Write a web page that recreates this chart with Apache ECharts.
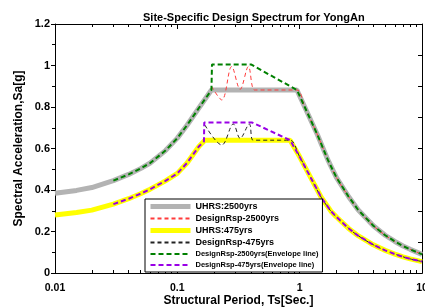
<!DOCTYPE html>
<html>
<head>
<meta charset="utf-8">
<script src="https://cdn.jsdelivr.net/npm/echarts@6/dist/echarts.min.js"></script>
<style>
  html, body { margin: 0; padding: 0; background: #fff; }
  #chart { width: 425px; height: 307px; }
</style>
</head>
<body>
<div id="chart"></div>
<script>
// UHRS curves (period in sec, Sa in g)
const uhrs2500Period = [0.01, 0.015, 0.02, 0.03, 0.04, 0.05, 0.06, 0.08, 0.1, 0.12, 0.15, 0.19, 0.3, 0.5, 0.7, 0.95, 1.1, 1.4, 1.7, 2, 2.5, 3, 4, 5, 6, 7, 8, 10];
const uhrs2500Sa = [0.384, 0.398, 0.412, 0.445, 0.475, 0.503, 0.53, 0.59, 0.65, 0.712, 0.795, 0.882, 0.882, 0.882, 0.882, 0.882, 0.8, 0.665, 0.545, 0.46, 0.37, 0.305, 0.228, 0.182, 0.152, 0.13, 0.114, 0.09];

const uhrs475Period = [0.01, 0.015, 0.02, 0.03, 0.04, 0.05, 0.06, 0.08, 0.1, 0.12, 0.15, 0.168, 0.3, 0.5, 0.7, 0.835, 1, 1.2, 1.5, 1.8, 2, 2.5, 3, 4, 5, 6, 7, 8, 10];
const uhrs475Sa = [0.28, 0.292, 0.303, 0.332, 0.358, 0.382, 0.404, 0.444, 0.48, 0.53, 0.61, 0.64, 0.64, 0.64, 0.64, 0.64, 0.56, 0.472, 0.365, 0.298, 0.27, 0.216, 0.18, 0.136, 0.109, 0.091, 0.078, 0.068, 0.055];

// design spectra
const design2500Period = [0.19, 0.231, 0.278, 0.326, 0.381, 0.427, 0.5, 0.7, 0.95, 1.1, 1.4, 1.7, 2, 2.5, 3, 4, 5, 6, 7, 8, 10];
const design2500Sa = [0.9, 0.834, 0.995, 0.885, 0.995, 0.882, 0.882, 0.882, 0.882, 0.8, 0.665, 0.545, 0.46, 0.37, 0.305, 0.228, 0.182, 0.152, 0.13, 0.114, 0.09];

const design475Period = [0.168, 0.231, 0.287, 0.326, 0.388, 0.416, 0.5, 0.7, 0.835, 1, 1.2, 1.5, 1.8, 2, 2.5, 3, 4, 5, 6, 7, 8, 10];
const design475Sa = [0.713, 0.617, 0.718, 0.649, 0.718, 0.64, 0.64, 0.64, 0.64, 0.56, 0.472, 0.365, 0.298, 0.27, 0.216, 0.18, 0.136, 0.109, 0.091, 0.078, 0.068, 0.055];

// envelope lines
const env2500Period = [0.03, 0.04, 0.05, 0.06, 0.08, 0.1, 0.12, 0.15, 0.19, 0.192, 0.4, 0.95, 1.1, 1.4, 1.7, 2, 2.5, 3, 4, 5, 6, 7, 8, 10];
const env2500Sa = [0.445, 0.475, 0.503, 0.53, 0.59, 0.65, 0.712, 0.795, 0.882, 1.005, 1.005, 0.882, 0.8, 0.665, 0.545, 0.46, 0.37, 0.305, 0.228, 0.182, 0.152, 0.13, 0.114, 0.09];

const env475Period = [0.03, 0.04, 0.05, 0.06, 0.08, 0.1, 0.12, 0.15, 0.165, 0.166, 0.41, 0.835, 1, 1.2, 1.5, 1.8, 2, 2.5, 3, 4, 5, 6, 7, 8, 10];
const env475Sa = [0.332, 0.358, 0.382, 0.404, 0.444, 0.48, 0.53, 0.61, 0.634, 0.725, 0.725, 0.64, 0.56, 0.472, 0.365, 0.298, 0.27, 0.216, 0.18, 0.136, 0.109, 0.091, 0.078, 0.068, 0.055];

const xMajorTicks = [0.01, 0.1, 1, 10];
const xMinorTicks = [0.02, 0.03, 0.04, 0.05, 0.06, 0.07, 0.08, 0.09, 0.2, 0.3, 0.4, 0.5, 0.6, 0.7, 0.8, 0.9, 2, 3, 4, 5, 6, 7, 8, 9];

const font = "'Liberation Sans', Arial, sans-serif";

function pairs(xs, ys) {
  return xs.map((x, i) => [x, ys[i]]);
}

function logAxis(position, ticks, len, extra) {
  return Object.assign({
    type: "log",
    logBase: 10,
    min: 0.01,
    max: 10,
    position,
    axisLine: { show: true, onZero: false, lineStyle: { color: "#000", width: 1 } },
    axisTick: { show: true, inside: true, length: len, customValues: ticks, lineStyle: { color: "#000" } },
    axisLabel: { show: false },
    splitLine: { show: false },
    minorTick: { show: false },
  }, extra || {});
}

const chart = echarts.init(document.getElementById("chart"));

chart.setOption({
  animation: false,
  title: {
    text: "Site-Specific Design Spectrum for YongAn",
    left: 138,
    top: 7,
    textStyle: { fontFamily: font, fontSize: 11, fontWeight: "bold", color: "#000" },
  },
  grid: { left: 55, right: 3, top: 24, bottom: 34, outerBoundsMode: "none", containLabel: false },
  legend: {
    orient: "vertical",
    left: 145,
    top: 199,
    padding: [3, 4, 3, 3],
    itemWidth: 40,
    itemHeight: 9,
    itemGap: 3,
    itemStyle: { opacity: 0 },
    borderColor: "#000",
    borderWidth: 1,
    backgroundColor: "#fff",
    textStyle: { fontFamily: font, fontWeight: "bold", color: "#000", fontSize: 9 },
    data: [
      { name: "UHRS:2500yrs", lineStyle: { width: 5 } },
      { name: "DesignRsp-2500yrs" },
      { name: "UHRS:475yrs", lineStyle: { width: 5 } },
      { name: "DesignRsp-475yrs" },
      { name: "DesignRsp-2500yrs(Envelope line)", lineStyle: { width: 2 }, textStyle: { fontSize: 7.5 } },
      { name: "DesignRsp-475yrs(Envelope line)", lineStyle: { width: 2 }, textStyle: { fontSize: 7.5 } },
    ],
  },
  xAxis: [
    logAxis("bottom", xMajorTicks, 5, {
      name: "Structural Period, Ts[Sec.]",
      nameLocation: "middle",
      nameGap: 22,
      nameMoveOverlap: false,
      nameTextStyle: { fontFamily: font, fontSize: 12, fontWeight: "bold", color: "#000" },
      axisLabel: {
        show: true,
        customValues: xMajorTicks,
        margin: 10,
        fontFamily: font,
        fontSize: 10.5,
        fontWeight: "bold",
        color: "#000",
      },
    }),
    logAxis("bottom", xMinorTicks, 3),
    logAxis("top", xMajorTicks, 5),
    logAxis("top", xMinorTicks, 3),
  ],
  yAxis: [
    {
      type: "value",
      min: 0,
      max: 1.2,
      interval: 0.2,
      position: "left",
      name: "Spectral Acceleration,Sa[g]",
      nameLocation: "middle",
      nameGap: 30,
      nameMoveOverlap: false,
      nameTextStyle: { fontFamily: font, fontSize: 12, fontWeight: "bold", color: "#000" },
      axisLine: { show: true, lineStyle: { color: "#000", width: 1 } },
      axisTick: { show: true, inside: false, length: 4, lineStyle: { color: "#000" } },
      minorTick: { show: true, splitNumber: 2, length: 3, lineStyle: { color: "#000" } },
      axisLabel: { margin: 5, fontFamily: font, fontSize: 11, fontWeight: "bold", color: "#000" },
      splitLine: { show: false },
    },
    {
      type: "value",
      min: 0,
      max: 1.2,
      interval: 0.15,
      position: "right",
      axisLine: { show: true, lineStyle: { color: "#000", width: 1 } },
      axisTick: { show: true, inside: true, length: 4, lineStyle: { color: "#000" } },
      axisLabel: { show: false },
      splitLine: { show: false },
    },
  ],
  series: [
    {
      name: "UHRS:2500yrs",
      type: "line",
      symbol: "none",
      data: pairs(uhrs2500Period, uhrs2500Sa),
      lineStyle: { color: "#b3b3b3", width: 5 },
      itemStyle: { color: "#b3b3b3" },
    },
    {
      name: "UHRS:475yrs",
      type: "line",
      symbol: "none",
      data: pairs(uhrs475Period, uhrs475Sa),
      lineStyle: { color: "#ffff00", width: 5 },
      itemStyle: { color: "#ffff00" },
    },
    {
      name: "DesignRsp-2500yrs",
      type: "line",
      symbol: "none",
      smooth: 0.35,
      data: pairs(design2500Period, design2500Sa),
      lineStyle: { color: "#ff3b3b", width: 1, type: [4, 3] },
      itemStyle: { color: "#ff3b3b" },
    },
    {
      name: "DesignRsp-475yrs",
      type: "line",
      symbol: "none",
      smooth: 0.35,
      data: pairs(design475Period, design475Sa),
      lineStyle: { color: "#222", width: 1, type: [4, 3] },
      itemStyle: { color: "#222" },
    },
    {
      name: "DesignRsp-2500yrs(Envelope line)",
      type: "line",
      symbol: "none",
      data: pairs(env2500Period, env2500Sa),
      lineStyle: { color: "#008000", width: 2, type: [5, 3] },
      itemStyle: { color: "#008000" },
    },
    {
      name: "DesignRsp-475yrs(Envelope line)",
      type: "line",
      symbol: "none",
      data: pairs(env475Period, env475Sa),
      lineStyle: { color: "#9900e6", width: 2, type: [5, 3] },
      itemStyle: { color: "#9900e6" },
    },
  ],
});
</script>
</body>
</html>
